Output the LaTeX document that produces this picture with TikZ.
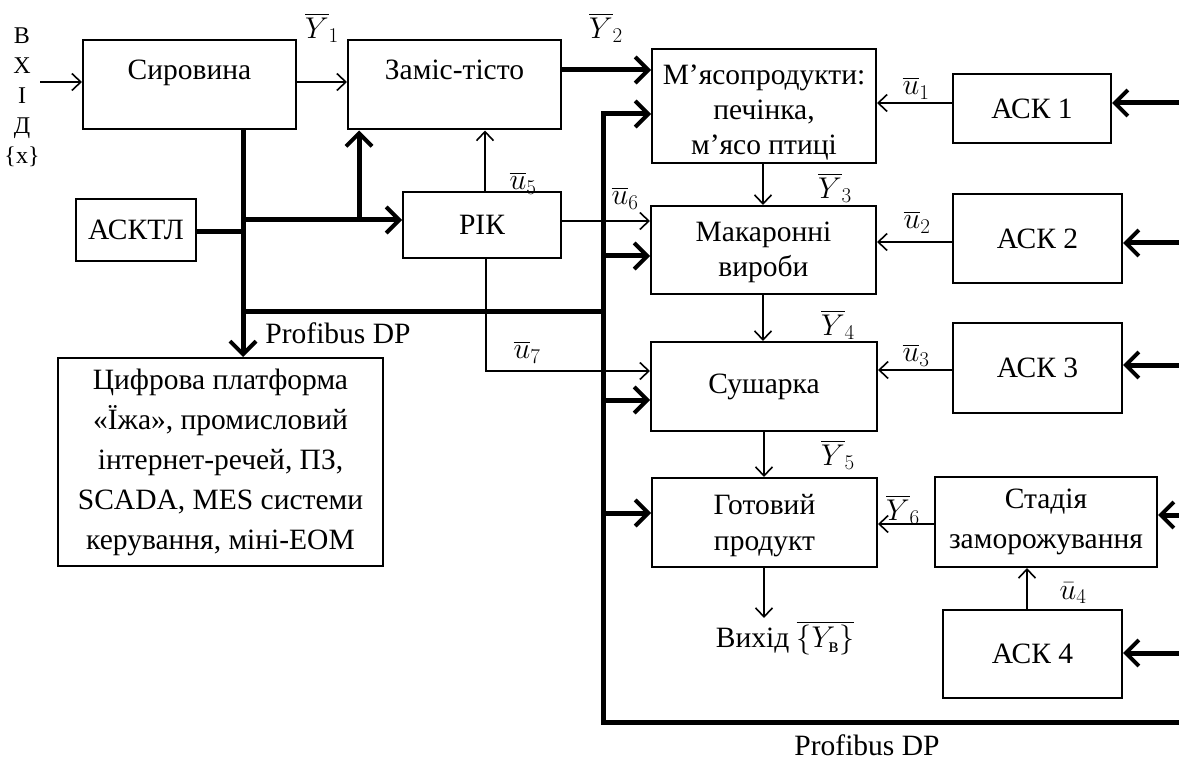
\RequirePackage{fix-cm}
\documentclass[tikz,border=0pt]{standalone}
\usepackage{amsmath}
\usepackage{fontspec}
\setmainfont{Liberation Serif}
\usetikzlibrary{arrows.meta}
\begin{document}
\begin{tikzpicture}[x=1pt,y=-1pt,
  font=\fontsize{29.5}{36}\selectfont,
  box/.style={draw, line width=2pt, inner sep=0pt, align=center},
  thinarr/.style={line width=1.6pt, -{Straight Barb[length=9pt,width=17pt,line width=1.6pt]}},
  thkarr/.style={line width=5pt, -{Straight Barb[length=13pt,width=26pt,line width=4pt]}},
  bus/.style={line width=5pt},
  lbl/.style={inner sep=0pt, font=\fontsize{30}{36}\selectfont}]
\useasboundingbox (0,0) rectangle (1179,762);

% boxes
\node[box, minimum width=213, minimum height=89, text height=20pt, text depth=29pt] (sir) at (189.5,84.5) {Сировина};
\node[box, minimum width=213, minimum height=89, text height=20pt, text depth=31pt] (zam) at (454.5,85) {Заміс-тісто};
\node[box, minimum width=224, minimum height=114, font=\fontsize{29.5}{35}\selectfont] (mja) at (764,106) {\raisebox{0pt}[33pt]{М’ясопродукти:}\\печінка,\\м’ясо птиці};
\node[box, minimum width=158, minimum height=69] (ack1) at (1032,108.5) {АСК 1};
\node[box, minimum width=120, minimum height=62] (asktl) at (136,230) {АСКТЛ};
\node[box, minimum width=158, minimum height=66] (rik) at (482,225) {РІК};
\node[box, minimum width=225, minimum height=88, font=\fontsize{29.5}{35}\selectfont] (mak) at (763.5,250) {\raisebox{0pt}[25pt]{Макаронні}\\вироби};
\node[box, minimum width=169, minimum height=89] (ack2) at (1037.5,238.5) {АСК 2};
\node[box, minimum width=226, minimum height=89] (sus) at (764,386.5) {Сушарка};
\node[box, minimum width=169, minimum height=90] (ack3) at (1037.5,368) {АСК 3};
\node[box, minimum width=225, minimum height=89, font=\fontsize{29.5}{36}\selectfont] (got) at (764.5,522.5) {\raisebox{0pt}[27pt]{Готовий}\\продукт};
\node[box, minimum width=222, minimum height=90, font=\fontsize{29.5}{40}\selectfont] (stad) at (1046,522) {Стадія\\заморожування};
\node[box, minimum width=179, minimum height=88] (ack4) at (1032.5,654) {АСК 4};
\node[box, minimum width=325, minimum height=208, font=\fontsize{29.5}{40}\selectfont] (cif) at (220.5,462)
  {Цифрова платформа\\«Їжа», промисловий\\інтернет-речей, ПЗ,\\SCADA, MES системи\\керування, міні-ЕОМ};

% input label
\node[inner sep=0pt, align=center, font=\fontsize{24}{30}\selectfont] (vhid) at (22,97) {В\\Х\\І\\Д\\\{x\}};
\coordinate (in) at (40,82);

% bus coordinates
\coordinate (btop) at (603,111.5);
\coordinate (bcorner) at (603,722);
\coordinate (bend) at (1179,722);
\coordinate (hb1) at (243,312);
\coordinate (hb2) at (603,312);
\coordinate (j1) at (243,232);
\coordinate (j2) at (243,220);
\coordinate (j3) at (359,220);
\coordinate (u7c) at (486,371);
\coordinate (outp) at (764,618);

% thin connectors
\draw[thinarr] (in) -- (sir.west |- in);
\draw[thinarr] (sir.east |- 0,82) -- (zam.west |- 0,82);
\draw[thinarr] (ack1.west |- 0,103) -- (mja.east |- 0,103);
\draw[thinarr] (ack2.west |- 0,242) -- (mak.east |- 0,242);
\draw[thinarr] (ack3.west |- 0,370) -- (sus.east |- 0,370);
\draw[thinarr] (stad.west |- 0,524) -- (got.east |- 0,524);
\draw[thinarr] (ack4.north -| 1027,0) -- (stad.south -| 1027,0);
\draw[thinarr] (mja.south -| 763,0) -- (mak.north -| 763,0);
\draw[thinarr] (mak.south -| 763,0) -- (sus.north -| 763,0);
\draw[thinarr] (sus.south -| 764,0) -- (got.north -| 764,0);
\draw[thinarr] (got.south -| outp) -- (outp);
\draw[thinarr] (rik.north -| 485,0) -- (zam.south -| 485,0);
\draw[thinarr] (rik.east |- 0,221) -- (mak.west |- 0,221);
\draw[thinarr] (rik.south -| u7c) -- (u7c) -- (sus.west |- u7c);

% thick connectors / bus
\draw[thkarr] (zam.east |- 0,70) -- (mja.west |- 0,70);
\draw[bus, line join=miter] (btop) -- (bcorner) -- (bend);
\draw[bus] (hb1) -- (hb2);
\draw[thkarr] (603,114) -- (mja.west |- 0,114);
\draw[thkarr] (603,256) -- (mak.west |- 0,256);
\draw[thkarr] (603,400) -- (sus.west |- 0,400);
\draw[thkarr] (603,513) -- (got.west |- 0,513);
\draw[thkarr] (1179,103) -- (ack1.east |- 0,103);
\draw[thkarr] (1179,243) -- (ack2.east |- 0,243);
\draw[thkarr] (1179,365) -- (ack3.east |- 0,365);
\draw[thkarr] (1179,515) -- (stad.east |- 0,515);
\draw[thkarr] (1179,653) -- (ack4.east |- 0,653);
\draw[thkarr] (sir.south -| j1) -- (cif.north -| j1);
\draw[bus] (asktl.east |- j1) -- (j1);
\draw[thkarr] (j2) -- (rik.west |- j2);
\draw[thkarr] (j3) -- (zam.south -| j3);

% labels
\node[lbl] (ly1) at (322,28) {$\overline{Y}_1$};
\node[lbl] (ly2) at (606,28) {$\overline{Y}_2$};
\node[lbl] (ly3) at (835,188) {$\overline{Y}_3$};
\node[lbl] (ly4) at (838,325) {$\overline{Y}_4$};
\node[lbl] (ly5) at (838,455) {$\overline{Y}_5$};
\node[lbl] (ly6) at (903,510) {$\overline{Y}_6$};
\node[lbl] (lu1) at (916,88) {$\overline{u}_1$};
\node[lbl] (lu2) at (917,222) {$\overline{u}_2$};
\node[lbl] (lu3) at (916,355) {$\overline{u}_3$};
\node[lbl] (lu4) at (1073,593) {$\bar{u}_4$};
\node[lbl] (lu5) at (523,183) {$\overline{u}_5$};
\node[lbl] (lu6) at (625,198) {$\overline{u}_6$};
\node[lbl] (lu7) at (527,352) {$\overline{u}_7$};
\node[inner sep=0pt] (pdp1) at (338,333) {Profibus DP};
\node[inner sep=0pt] (pdp2) at (867,745) {Profibus DP};
\node[inner sep=0pt] (vyh) at (785,638) {Вихід \fontsize{30}{36}\selectfont$\overline{\{Y_{\text{в}}\}}$};
\end{tikzpicture}
\end{document}
